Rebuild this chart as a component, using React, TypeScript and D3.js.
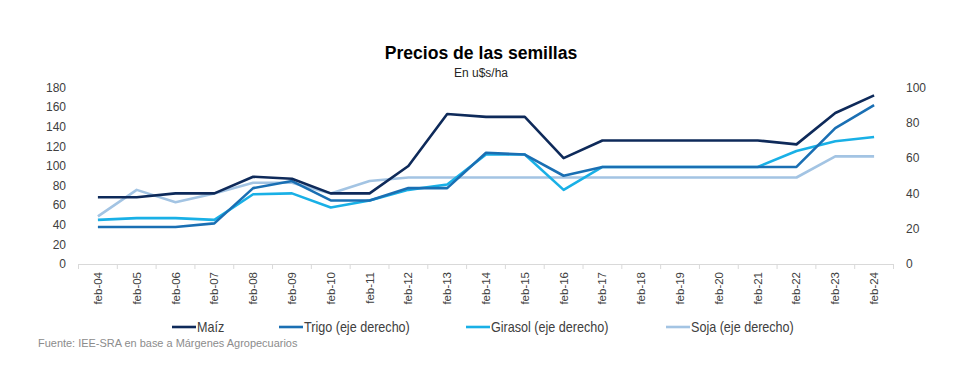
import React, { useEffect, useRef } from 'react';
import * as d3 from 'd3';

const categories = ['feb-04', 'feb-05', 'feb-06', 'feb-07', 'feb-08', 'feb-09', 'feb-10', 'feb-11', 'feb-12', 'feb-13', 'feb-14',
    'feb-15', 'feb-16', 'feb-17', 'feb-18', 'feb-19', 'feb-20', 'feb-21', 'feb-22', 'feb-23', 'feb-24'];

// eje izquierdo
const maiz = [68, 68, 72, 72, 89, 87, 72, 72, 100, 153, 150, 150, 108, 126, 126, 126, 126, 126, 122, 154, 172];
// eje derecho
const trigo = [21, 21, 21, 23, 43, 47, 36, 36, 43, 43, 63, 62, 50, 55, 55, 55, 55, 55, 55, 77, 90];
const girasol = [25, 26, 26, 25, 39.5, 40, 32, 36, 42, 45, 62, 62, 42, 55, 55, 55, 55, 55, 64, 69.5, 72];
const soja = [27, 42, 35, 40, 46, 46, 40, 47, 49, 49, 49, 49, 49, 49, 49, 49, 49, 49, 49, 61, 61];

const leftTicks = [0, 20, 40, 60, 80, 100, 120, 140, 160, 180];
const rightTicks = [0, 20, 40, 60, 80, 100];

const seriesList = [
    { name: 'Maíz', values: maiz, axis: 'left', color: '#0e2a5a' },
    { name: 'Trigo (eje derecho)', values: trigo, axis: 'right', color: '#1a6fb3' },
    { name: 'Girasol (eje derecho)', values: girasol, axis: 'right', color: '#19b0e6' },
    { name: 'Soja (eje derecho)', values: soja, axis: 'right', color: '#a3c4e3' },
];
const legendX = [172, 279, 466, 666];

const App = () => {
    const ref = useRef<SVGSVGElement | null>(null);

    useEffect(() => {
        const svg = d3.select(ref.current);
        svg.selectAll('*').remove();

        const x = d3.scaleBand().domain(categories).range([78.5, 893.5]).padding(0);
        const yL = d3.scaleLinear().domain([0, 180]).range([264, 87.5]);
        const yR = d3.scaleLinear().domain([0, 100]).range([264, 87.5]);
        const cx = (c: string) => (x(c) as number) + x.bandwidth() / 2;

        svg.append('text')
            .attr('x', 481).attr('y', 59)
            .attr('text-anchor', 'middle')
            .style('font-family', 'Liberation Sans, Arial, sans-serif')
            .style('font-weight', 'bold').style('font-size', '17.6px')
            .style('fill', '#000')
            .text('Precios de las semillas');

        svg.append('text')
            .attr('x', 481).attr('y', 77)
            .attr('text-anchor', 'middle')
            .style('font-family', 'Liberation Sans, Arial, sans-serif')
            .style('font-size', '12px').style('fill', '#262626')
            .text('En u$s/ha');

        // eje izquierdo
        svg.append('g').selectAll('text').data(leftTicks).enter().append('text')
            .attr('x', 66).attr('y', d => yL(d)).attr('dy', '0.35em')
            .attr('text-anchor', 'end')
            .style('font-family', 'Liberation Sans, Arial, sans-serif')
            .style('font-size', '12px').style('fill', '#404040')
            .text(d => d);

        // eje derecho
        svg.append('g').selectAll('text').data(rightTicks).enter().append('text')
            .attr('x', 906).attr('y', d => yR(d)).attr('dy', '0.35em')
            .attr('text-anchor', 'start')
            .style('font-family', 'Liberation Sans, Arial, sans-serif')
            .style('font-size', '12px').style('fill', '#404040')
            .text(d => d);

        // eje x
        const xAxis = d3.axisBottom(x).tickSize(0).tickFormat(() => '');
        const gx = svg.append('g').attr('transform', `translate(0,${yL(0)})`).call(xAxis);
        gx.select('.domain').attr('stroke', '#d9d9d9').attr('stroke-width', 1);
        const bounds = categories.map(c => x(c) as number).concat([x.range()[1]]);
        gx.selectAll('.bound').data(bounds).enter().append('line')
            .attr('class', 'bound')
            .attr('x1', d => d).attr('x2', d => d)
            .attr('y1', 0).attr('y2', 5)
            .attr('stroke', '#d9d9d9');

        svg.append('g').selectAll('text').data(categories).enter().append('text')
            .attr('transform', d => `translate(${cx(d) + 4},${yL(0) + 8}) rotate(-90)`)
            .attr('text-anchor', 'end')
            .style('font-family', 'Liberation Sans, Arial, sans-serif')
            .style('font-size', '11.5px').style('fill', '#404040')
            .text(d => d);

        // series (la de atrás primero)
        [...seriesList].reverse().forEach(s => {
            const y = s.axis === 'left' ? yL : yR;
            const line = d3.line<number>()
                .x((d, i) => cx(categories[i]))
                .y(d => y(d));
            svg.append('path')
                .datum(s.values)
                .attr('d', line)
                .attr('fill', 'none')
                .attr('stroke', s.color)
                .attr('stroke-width', 2.6)
                .attr('stroke-linejoin', 'round');
        });

        // leyenda (texto angosto como en el original)
        const lg = svg.append('g').selectAll('g').data(seriesList).enter().append('g')
            .attr('transform', (d, i) => `translate(${legendX[i]},327)`);
        lg.append('line')
            .attr('x1', 0).attr('x2', 24).attr('y1', 0).attr('y2', 0)
            .attr('stroke', d => d.color).attr('stroke-width', 2.6);
        lg.append('text')
            .attr('transform', 'translate(25,0) scale(0.9,1)')
            .attr('dy', '0.35em')
            .style('font-family', 'Liberation Sans, Arial, sans-serif')
            .style('font-size', '14px').style('fill', '#404040')
            .text(d => d.name);

        svg.append('text')
            .attr('transform', 'translate(38,347) scale(0.93,1)')
            .style('font-family', 'Liberation Sans, Arial, sans-serif')
            .style('font-size', '11.8px').style('fill', '#8c8c8c')
            .text('Fuente: IEE-SRA en base a Márgenes  Agropecuarios');
    }, []);

    return (
        <svg ref={ref} width={962} height={368}
            style={{ position: 'absolute', left: 0, top: 0, background: '#fff' }} />
    );
};

export default App;
